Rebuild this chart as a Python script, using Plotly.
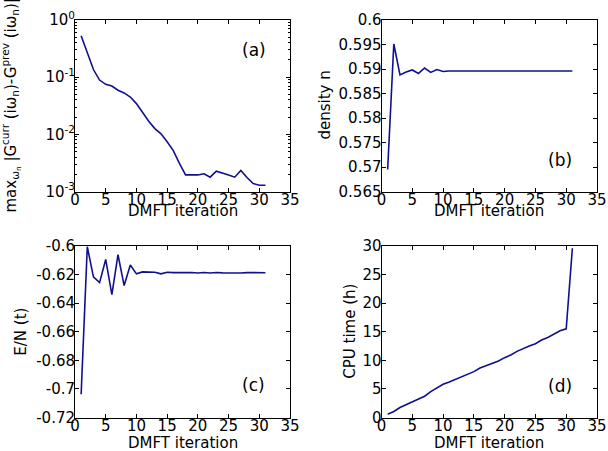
import plotly.graph_objects as go

W, H = 608, 451

iteration = list(range(1, 32))

g_diff = [0.53, 0.278, 0.136, 0.089, 0.075, 0.070, 0.059, 0.053, 0.045, 0.0345,
          0.024, 0.017, 0.0126, 0.0102, 0.0074, 0.0052, 0.0031, 0.00195, 0.00195, 0.00195,
          0.00204, 0.00178, 0.00227, 0.00212, 0.00195, 0.00178, 0.00234, 0.00176, 0.00138, 0.00129,
          0.00129]

density = [0.5695, 0.5951, 0.5888, 0.5894, 0.5898, 0.5891, 0.5902, 0.5893, 0.5899, 0.5895,
           0.5896, 0.5896, 0.5896, 0.5896, 0.5896, 0.5896, 0.5896, 0.5896, 0.5896, 0.5896,
           0.5896, 0.5896, 0.5896, 0.5896, 0.5896, 0.5896, 0.5896, 0.5896, 0.5896, 0.5896,
           0.5896]

energy = [-0.7037, -0.6005, -0.6216, -0.6256, -0.6094, -0.6340, -0.6061, -0.6277, -0.6133, -0.6195,
          -0.6181, -0.6181, -0.6184, -0.6195, -0.6184, -0.6186, -0.6185, -0.6189, -0.6185, -0.6189,
          -0.6185, -0.6189, -0.6185, -0.6188, -0.6189, -0.6185, -0.6189, -0.6186, -0.6187, -0.6187,
          -0.6187]

cpu_time = [0.58, 1.05, 1.74, 2.27, 2.73, 3.2, 3.72, 4.53, 5.23, 5.81,
            6.22, 6.69, 7.15, 7.62, 8.02, 8.66, 9.07, 9.48, 9.88, 10.47,
            10.93, 11.57, 12.09, 12.5, 12.9, 13.55, 14.0, 14.65, 15.17, 15.52,
            29.6]

x_ticks = [0, 5, 10, 15, 20, 25, 30, 35]
log_ticks = [1e-3, 1e-2, 1e-1, 1e0]
log_ticktext = ["10<sup>-3</sup>", "10<sup>-2</sup>", "10<sup>-1</sup>", "10<sup>0</sup>"]
density_ticks = [0.565, 0.57, 0.575, 0.58, 0.585, 0.59, 0.595, 0.6]
energy_ticks = [-0.72, -0.7, -0.68, -0.66, -0.64, -0.62, -0.6]
cpu_ticks = [0, 5, 10, 15, 20, 25, 30]

LINE = "#10108f"
FONT = "DejaVu Sans"
FS = 15


def px(x):
    return x / W


def py(y):
    return 1 - y / H


fig = go.Figure()

series = [(g_diff, "x", "y"), (density, "x2", "y2"), (energy, "x3", "y3"), (cpu_time, "x4", "y4")]
for vals, xa, ya in series:
    fig.add_trace(go.Scatter(x=iteration, y=vals, mode="lines", xaxis=xa, yaxis=ya,
                             line=dict(color=LINE, width=1.6), showlegend=False, cliponaxis=True,
                             hoverinfo="skip"))

common = dict(showline=True, linecolor="black", linewidth=1, mirror="allticks",
              ticks="inside", ticklen=4, tickwidth=1, tickcolor="black",
              showgrid=False, zeroline=False, automargin=False,
              tickfont=dict(family=FONT, size=FS, color="black"))

xL = [px(75), px(290)]
xR = [px(381.5), px(597)]
yT = [py(191.5), py(20)]
yB = [py(417.5), py(246)]

xaxis_common = dict(common, range=[0, 35], tickvals=x_ticks, ticktext=[str(v) for v in x_ticks],
                    ticklabelstandoff=-6)
yaxis_common = dict(common, ticklabelstandoff=-4)

minor_log = [m * 10 ** e for e in (-3, -2, -1) for m in range(2, 10)]

fig.update_layout(
    template="none",
    width=W, height=H,
    margin=dict(l=0, r=0, t=0, b=0),
    paper_bgcolor="white", plot_bgcolor="white",
    font=dict(family=FONT, size=FS, color="black"),
    xaxis=dict(xaxis_common, domain=xL, anchor="y"),
    yaxis=dict(yaxis_common, type="log", range=[-3, 0], domain=yT, anchor="x",
               tickvals=log_ticks, ticktext=log_ticktext,
               minor=dict(ticks="inside", ticklen=2, tickcolor="black", tickvals=minor_log)),
    xaxis2=dict(xaxis_common, domain=xR, anchor="y2"),
    yaxis2=dict(yaxis_common, range=[0.565, 0.6], domain=yT, anchor="x2",
                tickvals=density_ticks, ticktext=[f"{v:g}" for v in density_ticks]),
    xaxis3=dict(xaxis_common, domain=xL, anchor="y3"),
    yaxis3=dict(yaxis_common, range=[-0.72, -0.6], domain=yB, anchor="x3",
                tickvals=energy_ticks, ticktext=[f"{v:g}" for v in energy_ticks]),
    xaxis4=dict(xaxis_common, domain=xR, anchor="y4"),
    yaxis4=dict(yaxis_common, range=[0, 30], domain=yB, anchor="x4",
                tickvals=cpu_ticks, ticktext=[str(v) for v in cpu_ticks]),
)

ann = []
f = dict(family=FONT, size=FS, color="black")
for cx, cy in [(182.5, 211), (489, 211), (182.5, 443), (489, 443)]:
    ann.append(dict(x=px(cx), y=py(cy), xref="paper", yref="paper", text="DMFT iteration",
                    showarrow=False, font=f, xanchor="center", yanchor="middle"))

ylabels = [
    (12, 105.5, "max<sub>ω<sub>n</sub></sub> |G<sup>curr</sup> (iω<sub>n</sub>)-G<sup>prev</sup> (iω<sub>n</sub>)|"),
    (325, 105.5, "density n"),
    (21, 331.7, "E/N (t)"),
    (350, 331.7, "CPU time (h)"),
]
for cx, cy, t in ylabels:
    ann.append(dict(x=px(cx), y=py(cy), xref="paper", yref="paper", text=t, textangle=-90,
                    showarrow=False, font=f, xanchor="center", yanchor="middle"))

for cx, cy, t in [(254, 50, "(a)"), (560, 160, "(b)"), (253, 385, "(c)"), (560, 386, "(d)")]:
    ann.append(dict(x=px(cx), y=py(cy), xref="paper", yref="paper", text=t,
                    showarrow=False, font=dict(family=FONT, size=17, color="black"),
                    xanchor="center", yanchor="middle"))

fig.update_layout(annotations=ann)

fig.write_html("out.html", config={"displayModeBar": False, "staticPlot": True},
               post_script="document.body.style.margin='0';document.body.style.padding='0';")
